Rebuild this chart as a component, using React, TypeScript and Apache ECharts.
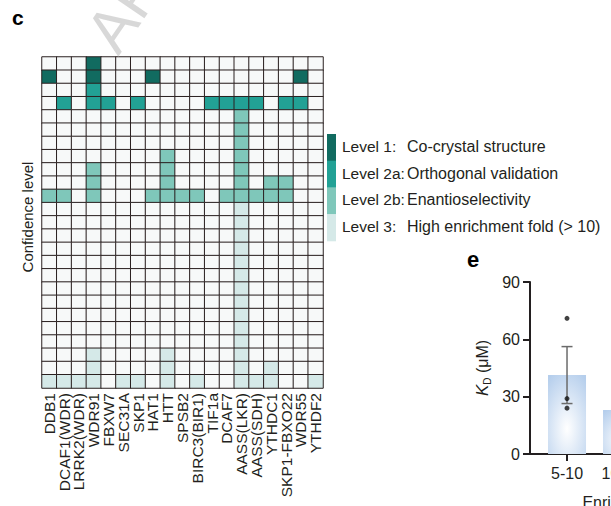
import React, { useEffect, useRef } from "react";
import * as echarts from "echarts";

const FONT = "'Liberation Sans', Arial, Helvetica, sans-serif";
const TEXT = "#231f20";

// Panel c: proteins (columns) and confidence rows (top to bottom)
const proteins = [
  "DDB1", "DCAF1(WDR)", "LRRK2(WDR)", "WDR91", "FBXW7", "SEC31A", "SKP1", "HAT1",
  "HTT", "SPSB2", "BIRC3(BIR1)", "TIF1a", "DCAF7", "AASS(LKR)", "AASS(SDH)",
  "YTHDC1", "SKP1-FBXO22", "WDR55", "YTHDF2",
];
// level code per cell: 0 none, 1 Level 1, 2 Level 2a, 3 Level 2b, 4 Level 3
const cellRows = [
  "0001000000000000000",
  "1001000100000000010",
  "0002000000000000000",
  "0202202000022220220",
  "0000000000000300000",
  "0000000000000300000",
  "0000000000000300000",
  "0000000030000300000",
  "0003000030000300000",
  "0003000030000303300",
  "3303000333303333300",
  "0000000000000400000",
  "0000000000000400000",
  "0000000000000400000",
  "0000000000000400000",
  "0000000000000400000",
  "0000000000000400000",
  "0000000000000400000",
  "0000000000000400000",
  "0000000000000400000",
  "0000000000000400000",
  "0000000000000400000",
  "0004000040000400000",
  "0004000040000404000",
  "4444044040400444004",
];
const levelColors = ["#f7f9f9", "#116b60", "#22a195", "#7fc7ba", "#d5e9e8"];
const levelNames = ["Level 1:", "Level 2a:", "Level 2b:", "Level 3:"];
const levelDescriptions = [
  "Co-crystal structure",
  "Orthogonal validation",
  "Enantioselectivity",
  "High enrichment fold (> 10)",
];

// Panel e: KD by enrichment fold bin
const enrichBins = ["5-10", "10-20"];
const kdMeans = [41.3, 23.0];
const kdErrLow = [26.4];
const kdErrHigh = [56.2];
const kdPoints = [71, 29, 24];

export default function App() {
  const ref = useRef<HTMLDivElement>(null);
  useEffect(() => {
    if (!ref.current) return;
    const chart = echarts.init(ref.current, null, { renderer: "svg" });
    const rowIds = cellRows.map((_, i) => String(i + 1));
    const heatData: any[] = [];
    cellRows.forEach((row, r) => {
      row.split("").forEach((ch, c) => heatData.push([c, r, Number(ch)]));
    });

    const legendTop = 134;
    const segH = 26.7;
    const graphic: any[] = [
      {
        type: "text", x: 126, y: 62, rotation: 0.97, z: 100, silent: true,
        style: { text: "ARTICLE IN PRESS", font: `62px ${FONT}`, fill: "rgba(190,190,190,0.6)", align: "left", verticalAlign: "bottom" },
      },
      { type: "text", x: 12, y: 28, style: { text: "c", font: `bold 21px ${FONT}`, fill: "#000", verticalAlign: "bottom" } },
      { type: "text", x: 467, y: 270, style: { text: "e", font: `bold 22px ${FONT}`, fill: "#000", verticalAlign: "bottom" } },
      {
        type: "text", x: 27, y: 217, rotation: Math.PI / 2,
        style: { text: "Confidence level", font: `15px ${FONT}`, fill: TEXT, align: "center", verticalAlign: "middle" },
      },
    ];
    levelNames.forEach((name, i) => {
      const y0 = legendTop + i * segH;
      graphic.push({ type: "rect", shape: { x: 327, y: y0, width: 9, height: segH + 0.5 }, style: { fill: levelColors[i + 1] } });
      graphic.push({ type: "text", x: 342, y: y0 + segH / 2 - 1, style: { text: name, font: `15.5px ${FONT}`, fill: TEXT, verticalAlign: "middle" } });
      graphic.push({ type: "text", x: 407, y: y0 + segH / 2 - 1, style: { text: levelDescriptions[i], font: `16px ${FONT}`, fill: TEXT, verticalAlign: "middle" } });
    });

    const axisDark = { color: TEXT, width: 2 };

    const option: any = {
      animation: false,
      backgroundColor: "#ffffff",
      textStyle: { fontFamily: FONT },
      grid: [
        { left: 42, top: 57, width: 281, height: 331, outerBoundsMode: "none", containLabel: false },
        { left: 530, top: 282, width: 216, height: 172, outerBoundsMode: "none", containLabel: false },
      ],
      xAxis: [
        {
          type: "category", gridIndex: 0, data: proteins,
          axisLine: { show: false }, axisTick: { show: false }, splitLine: { show: false },
          axisLabel: { rotate: 90, interval: 0, fontSize: 15.5, color: TEXT, margin: 5, fontFamily: FONT },
        },
        {
          type: "value", gridIndex: 1, min: -0.673, max: 3.254,
          splitLine: { show: false },
          axisLine: { show: true, onZero: false, lineStyle: axisDark },
          axisTick: { show: true, customValues: [0, 1], length: 7, lineStyle: axisDark },
          axisLabel: {
            customValues: [0, 1], fontSize: 16, color: TEXT, margin: 11, fontFamily: FONT,
            showMinLabel: true, showMaxLabel: true, hideOverlap: false,
            formatter: (v: number) => enrichBins[Math.round(v)] ?? "",
          },
          name: "Enrichment fold", nameLocation: "middle", nameGap: 40,
          nameTextStyle: { fontSize: 16, color: TEXT, fontFamily: FONT },
        },
      ],
      yAxis: [
        {
          type: "category", gridIndex: 0, data: rowIds, inverse: true,
          axisLine: { show: false }, axisTick: { show: false }, axisLabel: { show: false }, splitLine: { show: false },
        },
        {
          type: "value", gridIndex: 1, min: 0, max: 90, interval: 30,
          splitLine: { show: false },
          axisLine: { show: true, onZero: false, lineStyle: axisDark },
          axisTick: { show: true, length: 7, lineStyle: axisDark },
          axisLabel: { fontSize: 16, color: TEXT, margin: 10, fontFamily: FONT },
          name: "{k|K}{d|D}{n| (μM)}", nameLocation: "middle", nameGap: 38, nameRotate: 90,
          nameTextStyle: {
            fontSize: 16, color: TEXT, fontFamily: FONT,
            rich: {
              k: { fontStyle: "italic", fontSize: 17, color: TEXT, fontFamily: FONT },
              d: { fontSize: 10, color: TEXT, fontFamily: FONT, padding: [10, 0, 0, 0] },
              n: { fontSize: 16, color: TEXT, fontFamily: FONT },
            },
          },
        },
      ],
      visualMap: {
        show: false, type: "piecewise", seriesIndex: 0, dimension: 2,
        pieces: levelColors.map((color, i) => ({ value: i, color })),
      },
      series: [
        {
          type: "heatmap", xAxisIndex: 0, yAxisIndex: 0, data: heatData,
          itemStyle: { borderColor: "#2a2020", borderWidth: 1 },
          emphasis: { disabled: true },
        },
        {
          type: "bar", xAxisIndex: 1, yAxisIndex: 1, barWidth: 38,
          data: kdMeans.map((m, i) => [i, m]),
          itemStyle: {
            color: {
              type: "radial", x: 0.5, y: 0.68, r: 0.8,
              colorStops: [
                { offset: 0, color: "#ffffff" },
                { offset: 1, color: "#b5ceec" },
              ],
            },
          },
          z: 2,
        },
        {
          type: "custom", xAxisIndex: 1, yAxisIndex: 1, z: 3,
          data: kdErrLow.map((lo, i) => [i, lo, kdErrHigh[i]]),
          encode: { x: 0, y: [1, 2] },
          renderItem: (params: any, api: any) => {
            const x = api.value(0);
            const pLo = api.coord([x, api.value(1)]);
            const pHi = api.coord([x, api.value(2)]);
            const hw = 5.5;
            const style = { stroke: "#6b6b6b", lineWidth: 1.5 };
            return {
              type: "group",
              children: [
                { type: "line", shape: { x1: pLo[0], y1: pLo[1], x2: pHi[0], y2: pHi[1] }, style },
                { type: "line", shape: { x1: pLo[0] - hw, y1: pLo[1], x2: pLo[0] + hw, y2: pLo[1] }, style },
                { type: "line", shape: { x1: pHi[0] - hw, y1: pHi[1], x2: pHi[0] + hw, y2: pHi[1] }, style },
              ],
            };
          },
        },
        {
          type: "scatter", xAxisIndex: 1, yAxisIndex: 1, z: 4,
          data: kdPoints.map((v) => [0, v]),
          symbolSize: 5, itemStyle: { color: "#111111" },
        },
      ],
      graphic,
    };
    chart.setOption(option);
    return () => chart.dispose();
  }, []);
  return (
    <div
      ref={ref}
      style={{ position: "fixed", left: 0, top: 0, width: 611, height: 506, background: "#fff" }}
    />
  );
}
